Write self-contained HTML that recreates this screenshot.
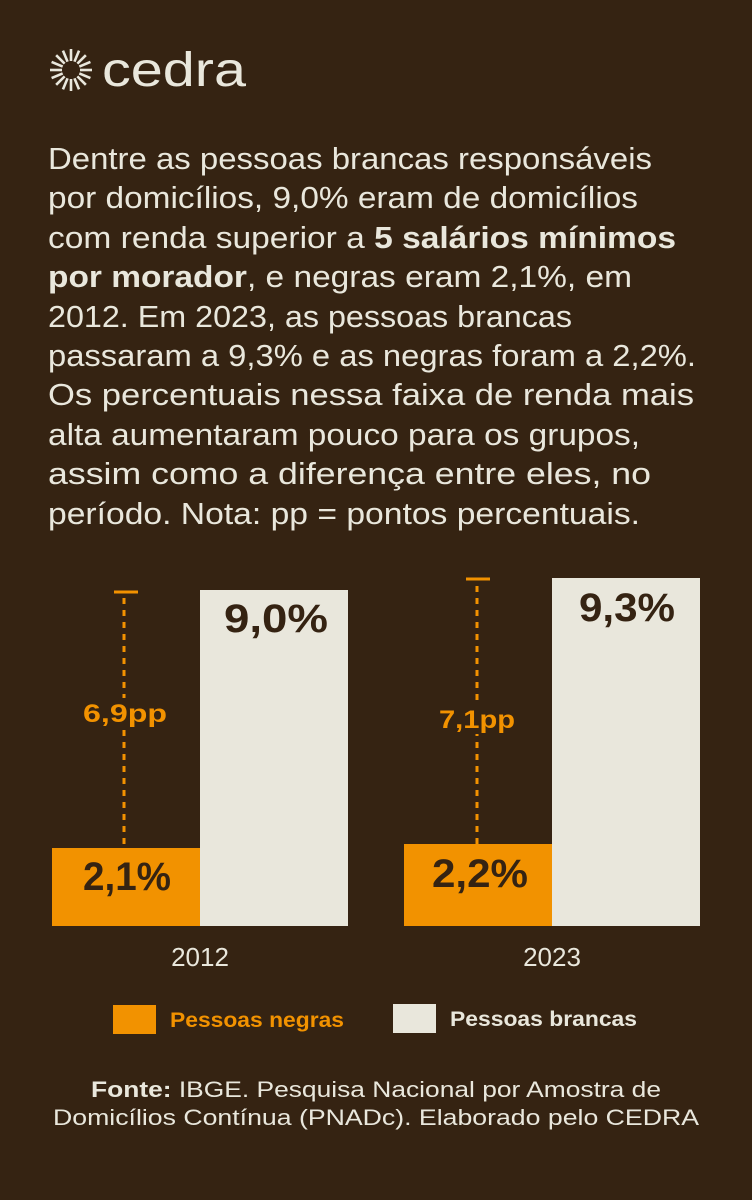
<!DOCTYPE html>
<html><head><meta charset="utf-8"><style>
html,body{margin:0;padding:0;background:#352312;}
svg{display:block;font-family:"Liberation Sans",sans-serif;}
</style></head><body>
<svg width="752" height="1200" viewBox="0 0 752 1200" xmlns="http://www.w3.org/2000/svg">
<rect width="752" height="1200" fill="#352312"/>
<g stroke="#e9e7dc" stroke-width="2.6" stroke-linecap="butt">
<g transform="translate(71,70)">
<line x1="9" y1="0" x2="21" y2="0"/><line x1="9" y1="0" x2="21" y2="0" transform="rotate(22.5)"/>
<line x1="9" y1="0" x2="21" y2="0" transform="rotate(45)"/><line x1="9" y1="0" x2="21" y2="0" transform="rotate(67.5)"/>
<line x1="9" y1="0" x2="21" y2="0" transform="rotate(90)"/><line x1="9" y1="0" x2="21" y2="0" transform="rotate(112.5)"/>
<line x1="9" y1="0" x2="21" y2="0" transform="rotate(135)"/><line x1="9" y1="0" x2="21" y2="0" transform="rotate(157.5)"/>
<line x1="9" y1="0" x2="21" y2="0" transform="rotate(180)"/><line x1="9" y1="0" x2="21" y2="0" transform="rotate(202.5)"/>
<line x1="9" y1="0" x2="21" y2="0" transform="rotate(225)"/><line x1="9" y1="0" x2="21" y2="0" transform="rotate(247.5)"/>
<line x1="9" y1="0" x2="21" y2="0" transform="rotate(270)"/><line x1="9" y1="0" x2="21" y2="0" transform="rotate(292.5)"/>
<line x1="9" y1="0" x2="21" y2="0" transform="rotate(315)"/><line x1="9" y1="0" x2="21" y2="0" transform="rotate(337.5)"/>
</g></g>
<text x="102" y="86" font-size="48" fill="#e9e7dc" textLength="144" lengthAdjust="spacingAndGlyphs">cedra</text>
<g font-size="31" fill="#e9e7dc">
<text x="48" y="169" textLength="604" lengthAdjust="spacingAndGlyphs">Dentre as pessoas brancas responsáveis</text>
<text x="48" y="208" textLength="590" lengthAdjust="spacingAndGlyphs">por domicílios, 9,0% eram de domicílios</text>
<text x="48" y="248" textLength="628" lengthAdjust="spacingAndGlyphs">com renda superior a <tspan font-weight="bold">5 salários mínimos</tspan></text>
<text x="48" y="287" textLength="584" lengthAdjust="spacingAndGlyphs"><tspan font-weight="bold">por morador</tspan>, e negras eram 2,1%, em</text>
<text x="48" y="327" textLength="524" lengthAdjust="spacingAndGlyphs">2012. Em 2023, as pessoas brancas</text>
<text x="48" y="366" textLength="648" lengthAdjust="spacingAndGlyphs">passaram a 9,3% e as negras foram a 2,2%.</text>
<text x="48" y="405" textLength="646" lengthAdjust="spacingAndGlyphs">Os percentuais nessa faixa de renda mais</text>
<text x="48" y="445" textLength="592" lengthAdjust="spacingAndGlyphs">alta aumentaram pouco para os grupos,</text>
<text x="48" y="484" textLength="603" lengthAdjust="spacingAndGlyphs">assim como a diferença entre eles, no</text>
<text x="48" y="524" textLength="592" lengthAdjust="spacingAndGlyphs">período. Nota: pp = pontos percentuais.</text>
</g>
<!-- 2012 -->
<rect x="52" y="848" width="148" height="78" fill="#f29200"/>
<rect x="200" y="590" width="148" height="336" fill="#e9e7dc"/>
<line x1="114" y1="592" x2="138" y2="592" stroke="#f29200" stroke-width="3"/>
<line x1="124" y1="598" x2="124" y2="848" stroke="#f29200" stroke-width="3" stroke-dasharray="6,6"/>
<rect x="80" y="698" width="90" height="30" fill="#352312"/>
<text x="125" y="722" font-size="25" font-weight="bold" fill="#f29200" text-anchor="middle" textLength="84" lengthAdjust="spacingAndGlyphs">6,9pp</text>
<text x="127" y="890" font-size="40" font-weight="bold" fill="#352312" text-anchor="middle" textLength="88" lengthAdjust="spacingAndGlyphs">2,1%</text>
<text x="276" y="632" font-size="40" font-weight="bold" fill="#352312" text-anchor="middle" textLength="104" lengthAdjust="spacingAndGlyphs">9,0%</text>
<text x="200" y="966" font-size="26" fill="#e9e7dc" text-anchor="middle">2012</text>
<!-- 2023 -->
<rect x="404" y="844" width="148" height="82" fill="#f29200"/>
<rect x="552" y="578" width="148" height="348" fill="#e9e7dc"/>
<line x1="466" y1="579" x2="490" y2="579" stroke="#f29200" stroke-width="3"/>
<line x1="477" y1="586" x2="477" y2="844" stroke="#f29200" stroke-width="3" stroke-dasharray="6,6"/>
<rect x="432" y="704" width="90" height="30" fill="#352312"/>
<text x="477" y="728" font-size="25" font-weight="bold" fill="#f29200" text-anchor="middle" textLength="76" lengthAdjust="spacingAndGlyphs">7,1pp</text>
<text x="480" y="887" font-size="40" font-weight="bold" fill="#352312" text-anchor="middle" textLength="96" lengthAdjust="spacingAndGlyphs">2,2%</text>
<text x="627" y="621" font-size="40" font-weight="bold" fill="#352312" text-anchor="middle" textLength="96" lengthAdjust="spacingAndGlyphs">9,3%</text>
<text x="552" y="966" font-size="26" fill="#e9e7dc" text-anchor="middle">2023</text>
<!-- legend -->
<rect x="113" y="1005" width="43" height="29" fill="#f29200"/>
<text x="170" y="1027" font-size="21" font-weight="bold" fill="#f29200" textLength="174" lengthAdjust="spacingAndGlyphs">Pessoas negras</text>
<rect x="393" y="1004" width="43" height="29" fill="#e9e7dc"/>
<text x="450" y="1026" font-size="21" font-weight="bold" fill="#e9e7dc" textLength="187" lengthAdjust="spacingAndGlyphs">Pessoas brancas</text>
<!-- source -->
<text x="376" y="1097" font-size="22" fill="#e9e7dc" text-anchor="middle" textLength="570" lengthAdjust="spacingAndGlyphs"><tspan font-weight="bold">Fonte:</tspan> IBGE. Pesquisa Nacional por Amostra de</text>
<text x="376" y="1125" font-size="22" fill="#e9e7dc" text-anchor="middle" textLength="646" lengthAdjust="spacingAndGlyphs">Domicílios Contínua (PNADc). Elaborado pelo CEDRA</text>
</svg>
</body></html>
